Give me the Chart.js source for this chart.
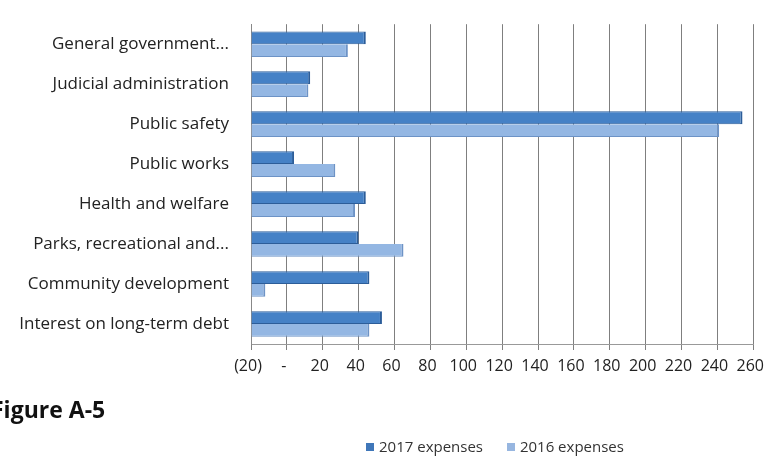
<!DOCTYPE html>
<html>
<head>
<meta charset="utf-8">
<script src="https://cdn.jsdelivr.net/npm/chart.js@4.4.1/dist/chart.umd.min.js"></script>
<style>
  html, body { margin: 0; padding: 0; background: #fff; }
  #wrap { position: relative; width: 774px; height: 464px; overflow: hidden; }
  #myChart { position: absolute; left: 0; top: 0; }
  .fig { position: absolute; left: -9px; top: 393px; font: bold 23px "Open Sans", sans-serif; color: #111; }
  .legend { position: absolute; left: 366px; top: 436px; font: 15px "Open Sans", sans-serif; color: #333; white-space: nowrap; }
  .legend span.box { display: inline-block; width: 8px; height: 8px; margin-right: 5px; vertical-align: 1px; }
  .legend span.item { margin-right: 20px; }
</style>
</head>
<body>
<div id="wrap">
  <canvas id="myChart" width="774" height="464"></canvas>
  <div class="fig">Figure A-5</div>
  <div class="legend">
    <span class="item"><span class="box" style="background:#3f77b9"></span>2017 expenses</span>
    <span class="item"><span class="box" style="background:#97b6e0"></span>2016 expenses</span>
  </div>
</div>
<script>
var categories = [
    "General government...",
    "Judicial administration",
    "Public safety",
    "Public works",
    "Health and welfare",
    "Parks, recreational and...",
    "Community development",
    "Interest on long-term debt"
];
var seriesNames = ["2017 expenses", "2016 expenses"];
var values2017 = [44, 13, 254, 4, 44, 40, 46, 53];
var values2016 = [34, 12, 241, 27, 38, 65, -12, 46];
var xMin = -20, xMax = 260, xStep = 20;

function tickText(v) {
    if (v < 0) return "(" + (-v) + ")";
    if (v === 0) return "-";
    return String(v);
}

new Chart("myChart", {
    type: "bar",
    data: {
        labels: categories,
        datasets: [{
            label: seriesNames[0],
            data: values2017,
            base: xMin,
            backgroundColor: "#4581c6",
            borderColor: "#2c5d99",
            borderWidth: { top: 1, bottom: 1, right: 2, left: 0 },
            borderSkipped: false
        }, {
            label: seriesNames[1],
            data: values2016,
            base: xMin,
            backgroundColor: "#94b7e3",
            borderColor: "#6d93c6",
            borderWidth: { top: 0, bottom: 1, right: 2, left: 0 },
            borderSkipped: false
        }]
    },
    options: {
        indexAxis: "y",
        responsive: false,
        animation: false,
        layout: { padding: { top: 16, right: 19, left: 0, bottom: 0 } },
        plugins: {
            legend: { display: false },
            tooltip: { enabled: false }
        },
        datasets: {
            bar: { categoryPercentage: 0.64, barPercentage: 1.0 }
        },
        scales: {
            x: {
                min: xMin,
                max: xMax,
                afterFit: function (s) { s.height = 120; },
                ticks: {
                    stepSize: xStep,
                    callback: function (v) { return tickText(v); },
                    font: { family: "Open Sans", size: 16 },
                    color: "#222",
                    padding: 7,
                    maxRotation: 0,
                    autoSkip: false,
                    labelOffset: -3
                },
                grid: { color: "#7f7f7f", lineWidth: 1, drawTicks: true, tickLength: 6 },
                border: { color: "#999" }
            },
            y: {
                afterFit: function (s) { s.width = 251; },
                ticks: {
                    font: { family: "Open Sans", size: 17 },
                    color: "#222",
                    padding: 14
                },
                grid: { display: false, drawTicks: true },
                border: { color: "#888" }
            }
        }
    }
});
</script>
</body>
</html>
